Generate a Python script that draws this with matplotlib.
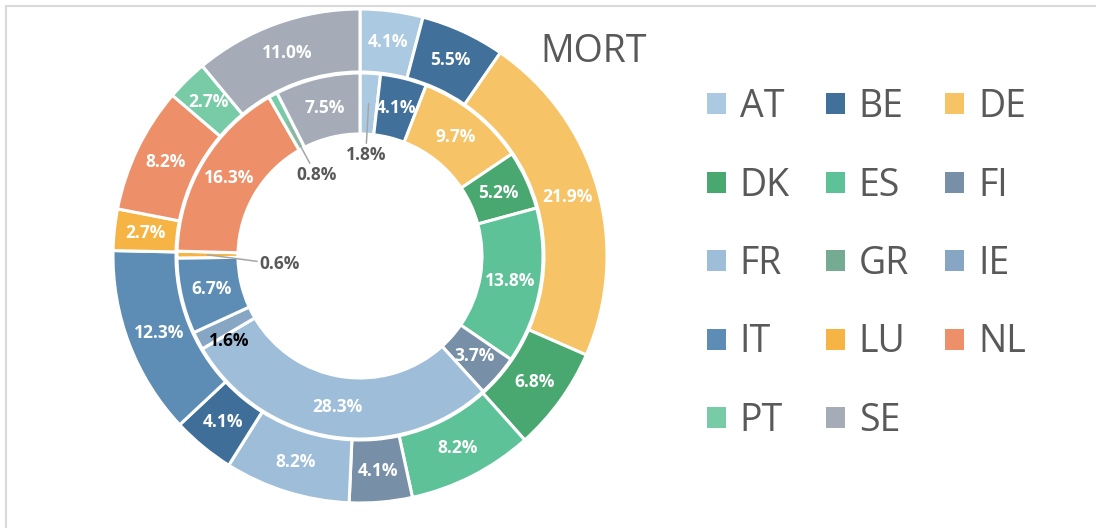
import matplotlib
matplotlib.use('Agg')

import matplotlib.pyplot as plt
from matplotlib.patches import Patch, Rectangle
import numpy as np

countries = ["AT", "BE", "DE", "DK", "ES", "FI", "FR", "GR", "IE", "IT", "LU", "NL", "PT", "SE"]
outer_share = [4.1, 5.5, 21.9, 6.8, 8.2, 4.1, 8.2, 0.0, 4.1, 12.3, 2.7, 8.2, 2.7, 11.0]
inner_share = [1.8, 4.1, 9.7, 5.2, 13.8, 3.7, 28.3, 0.0, 1.6, 6.7, 0.6, 16.3, 0.8, 7.5]
title = "MORT"

colors = {
    "AT": "#abc9e1", "BE": "#41709a", "DE": "#f6c366", "DK": "#48a86f",
    "ES": "#5ec299", "FI": "#7790a8", "FR": "#9dbdd9", "GR": "#76ab93",
    "IE": "#86a6c4", "IT": "#5d8db4", "LU": "#f5b444", "NL": "#ed8f68",
    "PT": "#78cba7", "SE": "#a5acb7",
}
# the outer IE slice is drawn darker than its legend swatch in the original
outer_colors = [colors[c] for c in countries]
outer_colors[countries.index("IE")] = "#3f6f98"
inner_colors = [colors[c] for c in countries]

plt.rcParams['font.family'] = ['Open Sans', 'DejaVu Sans']
GREY = "#595959"

fig = plt.figure(figsize=(10.96, 5.28), dpi=100)
ax = fig.add_axes([0, 0, 1, 1])

# work in pixel units: centre of the doughnut
cx, cy = 360, 272
edge = dict(edgecolor='white', linewidth=2.2)

outer, _ = ax.pie(outer_share, radius=247, center=(cx, cy), startangle=90,
                  counterclock=False, colors=outer_colors,
                  wedgeprops=dict(width=63, **edge))
inner, _ = ax.pie(inner_share, radius=183, center=(cx, cy), startangle=90,
                  counterclock=False, colors=inner_colors,
                  wedgeprops=dict(width=61, **edge))

ax.set_xlim(0, 1096)
ax.set_ylim(0, 528)
ax.set_aspect('equal')
ax.axis('off')


def polar(theta, r):
    t = np.deg2rad(theta)
    return cx + r * np.cos(t), cy + r * np.sin(t)


def label_ring(wedges, shares, callouts, nudges):
    for w, share, name in zip(wedges, shares, countries):
        if share == 0:
            continue
        mid = 0.5 * (w.theta1 + w.theta2)
        txt = f"{share:.1f}%"
        if name in callouts:
            r_txt, dy = callouts[name]
            tx, ty = polar(mid, r_txt)
            ax.annotate(txt, xy=polar(mid, w.r - w.width / 2), xytext=(tx, ty + dy),
                        ha='center', va='center', fontsize=12.5, fontweight='bold',
                        color=GREY,
                        arrowprops=dict(arrowstyle='-', color='#a6a6a6', lw=1.1,
                                        shrinkA=0, shrinkB=0))
        else:
            x, y = polar(mid, w.r - w.width / 2)
            dx, dy, col = nudges.get(name, (0, 0, 'white'))
            ax.text(x + dx, y + dy, txt, ha='center', va='center', fontsize=12.5,
                    fontweight='bold', color=col)


label_ring(outer, outer_share, {}, {})
label_ring(inner, inner_share,
           {"AT": (101, 0), "PT": (92, 0), "LU": (80, -9)},
           {"IE": (4, -14, 'black')})

ax.text(540, 466, title, fontsize=27, color=GREY, ha='left', va='baseline')

# legend filled row by row like the original
order = [0, 3, 6, 9, 12, 1, 4, 7, 10, 13, 2, 5, 8, 11]
handles = [Patch(facecolor=colors[countries[i]], edgecolor='none') for i in order]
labels = [countries[i] for i in order]
ax.legend(handles, labels, ncol=3, frameon=False, fontsize=27, labelcolor=GREY,
          loc='upper left', bbox_to_anchor=(707 / 1096, 440 / 528),
          borderpad=0, borderaxespad=0, handlelength=0.5, handleheight=0.5,
          handletextpad=0.37, labelspacing=1.08, columnspacing=0.97)

# light grey frame of the original picture
ax.add_patch(Rectangle((6, -20), 1200, 542, fill=False, edgecolor='#d9d9d9',
                       linewidth=1.5))

fig.savefig("out.png", dpi=100)
plt.close(fig)
